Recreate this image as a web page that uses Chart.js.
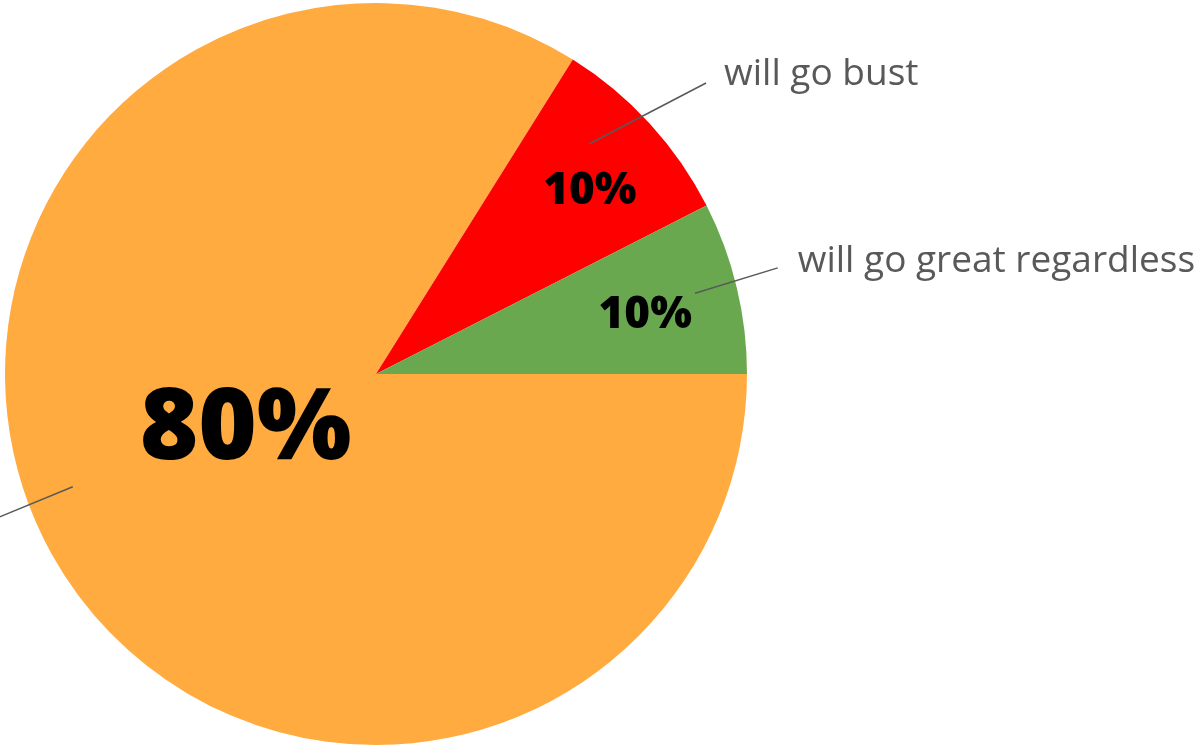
<!DOCTYPE html>
<html>
<head>
<meta charset="utf-8">
<script src="https://cdn.jsdelivr.net/npm/chart.js@4.4.1/dist/chart.umd.min.js"></script>
<style>
  html, body { margin: 0; padding: 0; background: #fff; overflow: hidden; }
  #wrap { width: 1201px; height: 746px; }
</style>
</head>
<body>
<div id="wrap"><canvas id="pieChart" width="1201" height="746"></canvas></div>
<script>
const categories = ["will go as planned", "will go bust", "will go great regardless"];
const shares = [83.9, 8.6, 7.5];
const shareLabels = ["80%", "10%", "10%"];
const sliceColors = ["#ffab40", "#ff0000", "#6aa84f"];

// leader lines + callout text, angles in degrees (canvas, clockwise from 3 o'clock)
const calloutStyle = [
  { a0: 159.6, r0: 0.872, a1: 159.1, r1: 1.17, dx: -12, dy: 4, align: "right" },
  { a0: -47.2, r0: 0.845, a1: -41.4, r1: 1.186, dx: 18, dy: 2, align: "left" },
  { a0: -14.2, r0: 0.887, a1: -14.8, r1: 1.12, dx: 20, dy: 4, align: "left" }
];

// percent text placement: offset from slice middle angle, radius fraction, font size
const pctStyle = [
  { off: 8.5, r: 0.375, size: 100, dy: 8 },
  { off: 1.8, r: 0.76, size: 44, dy: 1 },
  { off: 0.75, r: 0.744, size: 44, dy: 2 }
];

const rad = d => d * Math.PI / 180;

const calloutPlugin = {
  id: "callouts",
  afterDatasetsDraw(chart) {
    const ctx = chart.ctx;
    const arcs = chart.getDatasetMeta(0).data;

    arcs.forEach((arc, i) => {
      const R = arc.outerRadius;
      const cx = arc.x;
      const cy = arc.y;

      // percent labels
      const p = pctStyle[i];
      const mid = (arc.startAngle + arc.endAngle) / 2 + rad(p.off);
      ctx.save();
      ctx.fillStyle = "#000";
      ctx.font = "800 " + p.size + "px 'Open Sans'";
      ctx.textAlign = "center";
      ctx.textBaseline = "middle";
      ctx.fillText(shareLabels[i], cx + Math.cos(mid) * R * p.r, cy + Math.sin(mid) * R * p.r + p.dy);
      ctx.restore();

      // leader lines
      const c = calloutStyle[i];
      const x0 = cx + Math.cos(rad(c.a0)) * R * c.r0;
      const y0 = cy + Math.sin(rad(c.a0)) * R * c.r0;
      const x1 = cx + Math.cos(rad(c.a1)) * R * c.r1;
      const y1 = cy + Math.sin(rad(c.a1)) * R * c.r1;

      ctx.save();
      ctx.strokeStyle = "#595959";
      ctx.lineWidth = 1.5;
      ctx.beginPath();
      ctx.moveTo(x0, y0);
      ctx.lineTo(x1, y1);
      ctx.stroke();

      ctx.fillStyle = "#595959";
      ctx.font = "37px 'Open Sans'";
      ctx.textAlign = c.align;
      ctx.textBaseline = "alphabetic";
      ctx.fillText(categories[i], x1 + c.dx, y1 + c.dy);
      ctx.restore();
    });
  }
};

new Chart(document.getElementById("pieChart"), {
  type: "pie",
  data: {
    labels: categories,
    datasets: [{
      data: shares,
      backgroundColor: sliceColors,
      borderWidth: 0
    }]
  },
  options: {
    responsive: false,
    animation: false,
    rotation: 90,
    layout: { padding: { left: 5, top: 3, right: 454, bottom: 1 } },
    plugins: {
      legend: { display: false },
      tooltip: { enabled: false }
    }
  },
  plugins: [calloutPlugin]
});
</script>
</body>
</html>
